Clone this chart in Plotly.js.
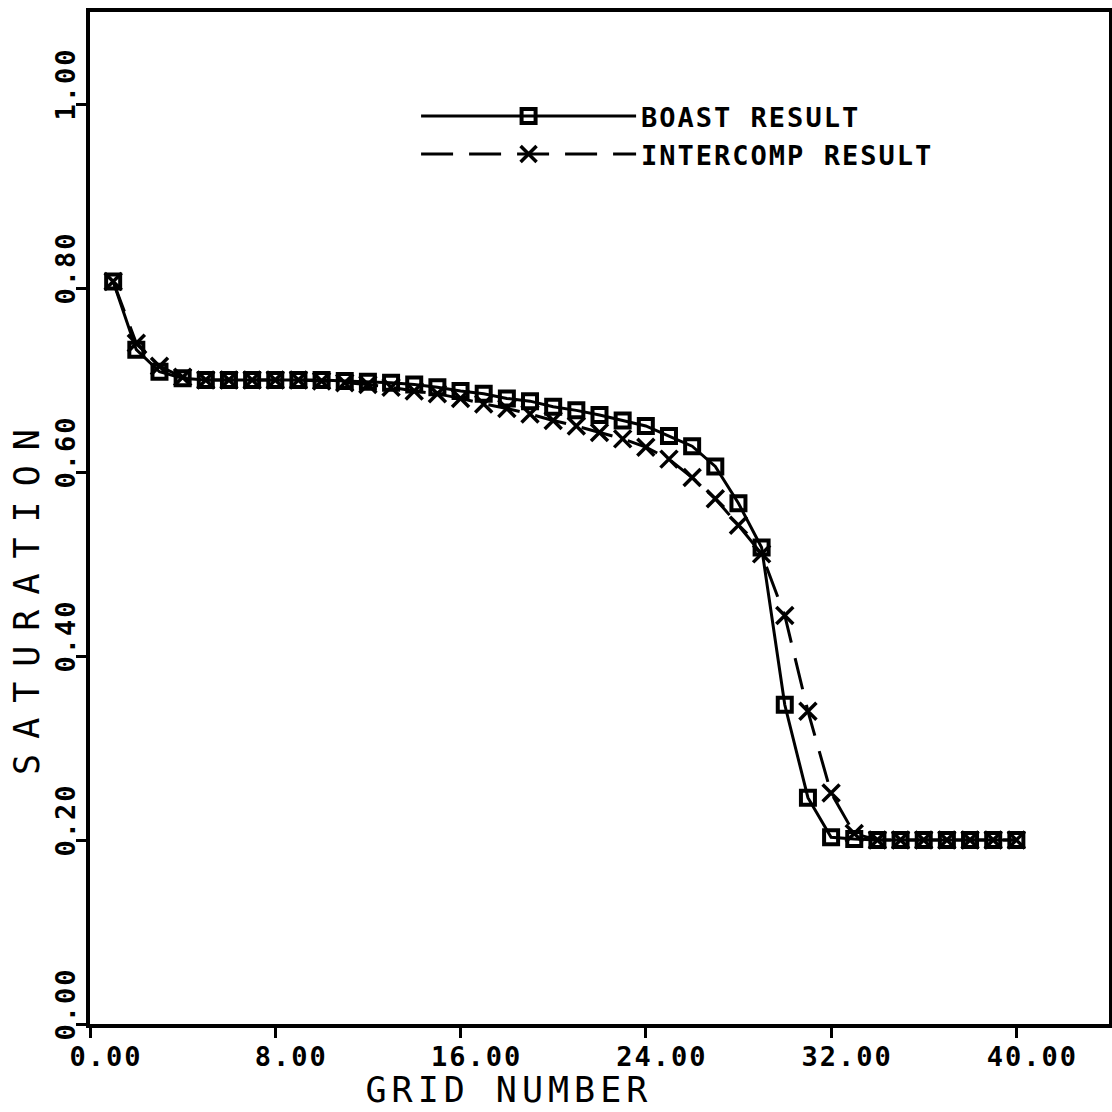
<!DOCTYPE html>
<html><head><meta charset="utf-8">
<script src="https://cdn.plot.ly/plotly-3.0.1.min.js"></script>
<style>
body{margin:0;background:#fff}
#chart{width:1112px;height:1112px}
.annotation[data-index="0"] text{letter-spacing:5px}
.annotation[data-index="1"] text{letter-spacing:15px}
.xtick text,.ytick text,.legendtext{letter-spacing:2px}
</style></head><body><div id="chart"></div><script>
const gridNumber = [1,2,3,4,5,6,7,8,9,10,11,12,13,14,15,16,17,18,19,20,21,22,23,24,25,26,27,28,29,30,31,32,33,34,35,36,37,38,39,40];
const boastSaturation = [0.807,0.733,0.709,0.702,0.700,0.700,0.700,0.700,0.700,0.700,0.699,0.698,0.697,0.695,0.692,0.688,0.685,0.680,0.677,0.671,0.667,0.662,0.656,0.650,0.639,0.628,0.606,0.566,0.518,0.347,0.246,0.203,0.201,0.200,0.200,0.200,0.200,0.200,0.200,0.200];
const intercompSaturation = [0.807,0.740,0.715,0.703,0.700,0.700,0.700,0.700,0.700,0.699,0.697,0.695,0.692,0.688,0.685,0.680,0.674,0.669,0.663,0.656,0.650,0.643,0.636,0.627,0.614,0.594,0.571,0.542,0.511,0.444,0.340,0.251,0.207,0.200,0.200,0.200,0.200,0.200,0.200,0.200];
const seriesNames = ['BOAST RESULT','INTERCOMP RESULT'];
const xTickValues = [0,8,16,24,32,40];
const yTickValues = [0,0.2,0.4,0.6,0.8,1.0];
const xTitle = 'GRID NUMBER';
const yTitle = 'SATURATION';

const tickFont = {family:'DejaVu Sans Mono', size:27, color:'#000', weight:'bold'};
const titleFont = {family:'DejaVu Sans Mono', size:35, color:'#000'};

const data = [
  {x:gridNumber, y:intercompSaturation, name:seriesNames[1], type:'scatter', mode:'lines+markers',
   line:{color:'#000', width:3, dash:'32px,16px'},
   marker:{symbol:'x-thin-open', size:17, color:'#000', line:{color:'#000', width:3.5}}},
  {x:gridNumber, y:boastSaturation, name:seriesNames[0], type:'scatter', mode:'lines+markers',
   line:{color:'#000', width:3},
   marker:{symbol:'square-open', size:14, color:'#000', line:{color:'#000', width:4}}}
];

const axisCommon = {showgrid:false, zeroline:false, showline:true, mirror:true, linecolor:'#000', linewidth:4,
  ticks:'outside', ticklen:10, tickwidth:3, tickcolor:'#000', tickfont:tickFont, tickformat:'.2f', automargin:false};

const layout = {
  width:1112, height:1112,
  margin:{l:90, r:3, t:12, b:88},
  paper_bgcolor:'#fff', plot_bgcolor:'#fff',
  showlegend:true,
  legend:{x:0.32, y:0.921, xanchor:'left', yanchor:'top', bgcolor:'rgba(0,0,0,0)', borderwidth:0,
    font:tickFont, itemwidth:215, traceorder:'reversed', tracegroupgap:0},
  xaxis:Object.assign({}, axisCommon, {range:[0,44], tickvals:xTickValues, ticklabelshift:16, ticklabelstandoff:-4}),
  yaxis:Object.assign({}, axisCommon, {range:[0,1.1], tickvals:yTickValues, tickangle:-90, ticklabelshift:-16, ticklabelstandoff:-10}),
  annotations:[
    {text:xTitle, xref:'paper', yref:'paper', x:0.412, y:-0.0655, xanchor:'center', yanchor:'middle', showarrow:false, font:titleFont},
    {text:yTitle, xref:'paper', yref:'paper', x:-0.0618, y:0.424, xanchor:'center', yanchor:'middle', textangle:-90, showarrow:false, font:titleFont}
  ]
};

Plotly.newPlot('chart', data, layout, {displayModeBar:false, staticPlot:true});
</script></body></html>
